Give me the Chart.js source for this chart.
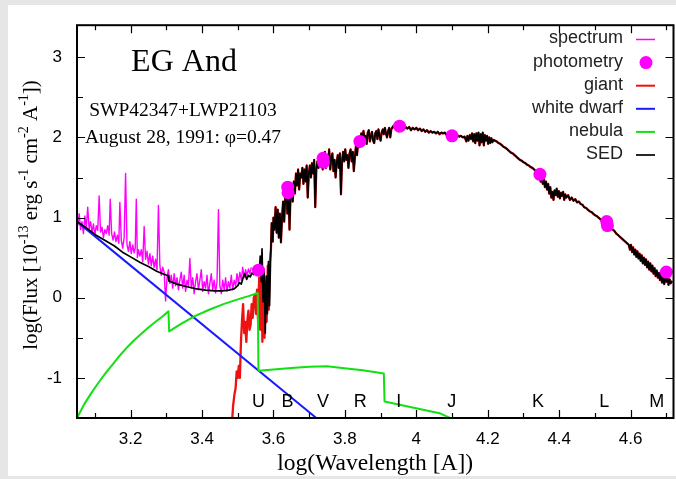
<!DOCTYPE html>
<html>
<head>
<meta charset="utf-8">
<script src="https://cdn.jsdelivr.net/npm/chart.js@4.4.0/dist/chart.umd.min.js"></script>
<style>
  html, body { margin: 0; padding: 0; width: 676px; height: 479px; overflow: hidden; background: #e6e6e6; }
  #panel { position: absolute; left: 8px; top: 5px; width: 672px; height: 471px; background: #fff; }
  #sed { position: absolute; left: 0; top: 0; }
</style>
</head>
<body>
<div id="panel"></div>
<canvas id="sed" width="680" height="479"></canvas>
<script>
// axis ticks (log wavelength / log flux)
const xTicks = [3.2, 3.4, 3.6, 3.8, 4, 4.2, 4.4, 4.6];
const xMinor = [3.1, 3.3, 3.5, 3.7, 3.9, 4.1, 4.3, 4.5, 4.7];
const yTicks = [-1, 0, 1, 2, 3];
const yMinor = [-0.5, 0.5, 1.5, 2.5];

// photometric bands
const bandNames = ['U', 'B', 'V', 'R', 'I', 'J', 'K', 'L', 'M'];
const bandLw = [3.558, 3.639, 3.739, 3.843, 3.951, 4.099, 4.341, 4.526, 4.673];

// photometry points
const photLw = [3.558, 3.640, 3.641, 3.739, 3.740, 3.842, 3.953, 4.100, 4.346, 4.533, 4.535, 4.700];
const photFlux = [0.344, 1.38, 1.31, 1.74, 1.69, 1.95, 2.14, 2.02, 1.54, 0.95, 0.90, 0.32];

// IUE spectrum [log lambda, log flux]
const spectrumPts = [
  [3.048,0.98],[3.052,0.90],[3.056,1.05],[3.060,0.85],[3.064,0.95],[3.068,0.80],[3.072,1.02],[3.076,0.88],
  [3.080,1.13],[3.084,0.86],[3.088,0.95],[3.092,0.82],[3.096,0.92],[3.100,0.78],[3.104,0.90],[3.108,0.84],
  [3.112,1.27],[3.116,0.82],[3.120,0.88],[3.124,0.75],[3.128,0.85],[3.132,0.80],[3.136,0.90],[3.140,0.78],
  [3.143,1.23],[3.147,0.80],[3.151,0.72],[3.155,0.82],[3.159,0.70],[3.163,0.78],[3.167,0.68],[3.170,1.19],
  [3.174,0.72],[3.178,0.62],[3.182,0.75],[3.186,1.55],[3.190,0.66],[3.194,0.58],[3.198,0.70],[3.202,0.55],
  [3.206,0.66],[3.210,0.56],[3.213,0.62],[3.216,1.23],[3.219,0.50],[3.222,0.60],[3.226,0.52],[3.230,0.60],
  [3.234,0.45],[3.238,0.89],[3.242,0.48],[3.246,0.58],[3.250,0.42],[3.254,0.55],[3.258,0.40],[3.262,0.52],
  [3.266,0.38],[3.270,0.48],[3.274,0.35],[3.278,1.15],[3.282,0.40],[3.286,0.28],[3.290,0.38],[3.294,0.32],
  [3.298,-0.04],[3.302,0.25],[3.306,0.35],[3.310,0.18],[3.314,0.28],[3.318,0.12],[3.322,0.30],[3.326,0.15],
  [3.330,0.25],[3.334,0.10],[3.338,0.22],[3.342,0.32],[3.346,0.12],[3.350,0.28],[3.354,0.08],[3.358,0.22],
  [3.362,0.15],[3.366,0.49],[3.370,0.12],[3.374,0.25],[3.378,0.05],[3.382,0.20],[3.386,0.30],[3.390,0.10],
  [3.394,0.22],[3.398,0.35],[3.402,0.08],[3.406,0.20],[3.410,0.12],[3.414,0.28],[3.418,0.05],[3.422,0.18],
  [3.426,0.30],[3.430,0.10],[3.434,0.22],[3.438,0.06],[3.442,0.20],[3.446,1.10],[3.450,0.15],[3.454,0.05],
  [3.458,0.22],[3.462,0.10],[3.466,0.25],[3.470,0.08],[3.474,0.20],[3.478,0.12],[3.482,0.28],[3.486,0.10],
  [3.490,0.22],[3.494,0.15],[3.498,0.30],[3.502,0.18],[3.506,0.32],[3.510,0.22],[3.514,0.38],[3.518,0.25],
  [3.522,0.35],[3.526,0.28],[3.530,0.36],[3.534,0.30],[3.538,0.38]
];

// giant below the Balmer region (above it the giant follows the SED)
const giantPts = [
  [3.484,-1.55],[3.487,-1.35],[3.491,-1.20],[3.494,-1.13],[3.497,-0.92],[3.500,-1.00],[3.503,-0.85],[3.506,-1.00],
  [3.509,-0.55],[3.512,-0.28],[3.515,-0.08],[3.518,-0.44],[3.521,-0.30],[3.524,-0.55],[3.527,-0.28],[3.530,-0.16],
  [3.533,-0.40],[3.536,-0.34],[3.539,-0.08],[3.542,-0.25],[3.545,0.00],[3.548,0.04],[3.551,-0.20],[3.554,0.10],
  [3.557,-0.30],[3.560,0.25],[3.563,-0.40],[3.566,0.50],[3.569,-0.55],[3.572,0.30],[3.575,-0.50],[3.578,0.20],
  [3.581,-0.30],[3.584,0.40],[3.587,-0.15],[3.590,0.45],[3.593,0.60]
];

const dwarfPts = [[3.05,0.95],[3.72,-1.5]];

const nebulaPts = [
  [3.05,-1.5],[3.07,-1.33],[3.09,-1.19],[3.11,-1.06],[3.13,-0.94],[3.15,-0.83],[3.17,-0.72],[3.19,-0.62],
  [3.21,-0.53],[3.23,-0.45],[3.25,-0.37],[3.27,-0.30],[3.29,-0.23],[3.306,-0.17],[3.308,-0.42],[3.34,-0.33],
  [3.38,-0.23],[3.42,-0.15],[3.46,-0.08],[3.50,-0.02],[3.53,0.02],[3.556,0.06],[3.558,-0.91],[3.60,-0.895],
  [3.65,-0.875],[3.70,-0.86],[3.75,-0.855],[3.78,-0.87],[3.85,-0.905],[3.909,-0.944],[3.911,-1.295],
  [4.065,-1.44],[4.10,-1.51]
];

// total model SED
const sedPts = [
  [3.05,0.95],[3.08,0.86],[3.10,0.79],[3.13,0.71],[3.155,0.645],[3.18,0.56],[3.20,0.51],[3.227,0.44],
  [3.25,0.39],[3.273,0.33],[3.29,0.30],[3.305,0.275],[3.307,0.21],[3.33,0.17],[3.355,0.14],[3.38,0.115],
  [3.41,0.095],[3.435,0.085],[3.457,0.085],[3.475,0.095],[3.49,0.11],[3.50,0.15],[3.505,0.19],[3.51,0.17],
  [3.515,0.25],[3.52,0.30],[3.525,0.23],[3.53,0.28],[3.535,0.26],[3.54,0.31],[3.545,0.29],[3.55,0.33],
  [3.555,0.36],[3.56,0.30],[3.563,0.52],[3.566,0.20],[3.568,0.61],[3.571,-0.05],[3.574,0.35],[3.577,-0.44],
  [3.58,0.27],[3.583,-0.20],[3.586,0.45],[3.589,-0.10],[3.592,0.50],[3.595,0.93],[3.598,0.70],[3.600,1.00],
  [3.603,0.85],[3.606,1.13],[3.609,0.81],[3.612,1.10],[3.615,0.75],[3.618,1.05],[3.621,0.69],[3.624,1.00],
  [3.627,1.20],[3.630,0.95],[3.633,1.25],[3.636,1.35],[3.639,1.05],[3.642,1.38],[3.645,0.85],[3.648,1.30],
  [3.651,1.40],[3.654,1.20],[3.657,1.45],[3.660,1.30],[3.663,1.55],[3.666,1.40],[3.669,1.60],[3.672,1.35],
  [3.675,1.55],[3.678,1.50],[3.681,1.62],[3.684,1.42],[3.687,1.60],[3.690,1.45],[3.693,1.65],[3.696,1.25],
  [3.699,1.55],[3.702,1.65],[3.705,1.50],[3.708,1.68],[3.711,1.55],[3.714,1.72],[3.717,1.13],[3.720,1.60],
  [3.723,1.70],[3.726,1.62],[3.729,1.76],[3.732,1.68],[3.735,1.75],[3.738,1.60],[3.741,1.72],[3.744,1.82],
  [3.747,1.62],[3.750,1.78],[3.753,1.70],[3.756,1.85],[3.759,1.60],[3.762,1.75],[3.765,1.80],[3.768,1.58],
  [3.771,1.72],[3.774,1.50],[3.777,1.68],[3.780,1.78],[3.783,1.62],[3.786,1.80],[3.789,1.29],[3.792,1.70],
  [3.795,1.82],[3.798,1.70],[3.801,1.85],[3.804,1.72],[3.807,1.78],[3.810,1.62],[3.813,1.80],[3.816,1.85],
  [3.819,1.70],[3.822,1.82],[3.825,1.58],[3.828,1.75],[3.831,1.90],[3.834,1.78],[3.837,1.95],[3.840,1.88],
  [3.843,1.98],[3.846,2.05],[3.849,1.95],[3.852,2.08],[3.855,1.98],[3.858,2.02],[3.861,1.92],[3.864,2.06],
  [3.867,2.09],[3.870,1.95],[3.873,2.02],[3.876,2.07],[3.879,1.96],[3.882,1.93],[3.885,2.05],[3.888,2.08],
  [3.891,1.98],[3.894,2.10],[3.897,2.02],[3.900,1.96],[3.903,2.06],[3.906,2.10],[3.909,2.04],[3.912,2.12],
  [3.915,2.05],[3.918,2.00],[3.921,2.08],[3.924,2.12],[3.927,2.00],[3.930,2.10],[3.935,2.14],[3.940,2.12],
  [3.945,2.15],[3.950,2.13],[3.955,2.14],[3.960,2.12],[3.965,2.10],[3.970,2.13],[3.975,2.11],[3.980,2.13],
  [3.985,2.09],[3.990,2.12],[3.995,2.10],[4.000,2.12],[4.005,2.09],[4.010,2.11],[4.015,2.08],[4.020,2.10],
  [4.025,2.07],[4.030,2.09],[4.035,2.06],[4.040,2.08],[4.045,2.06],[4.050,2.07],[4.055,2.05],[4.060,2.07],
  [4.065,2.04],[4.070,2.06],[4.075,2.05],[4.080,2.06],[4.085,2.03],[4.090,2.05],[4.095,2.04],[4.100,2.03],
  [4.105,2.04],[4.110,2.02],[4.115,2.03],[4.120,2.01],[4.125,2.02],[4.130,2.00],[4.135,2.01],[4.140,1.95],
  [4.143,2.02],[4.146,1.96],[4.150,2.03],[4.153,1.98],[4.156,2.05],[4.159,1.95],[4.162,2.04],[4.165,1.93],
  [4.168,2.05],[4.171,1.96],[4.174,2.06],[4.177,1.90],[4.180,2.04],[4.183,1.94],[4.186,2.06],[4.189,1.90],
  [4.192,2.03],[4.195,1.96],[4.198,2.02],[4.201,1.92],[4.204,2.00],[4.207,1.93],[4.210,1.99],[4.213,1.94],
  [4.216,1.97],[4.220,1.96],[4.225,1.95],[4.230,1.93],[4.235,1.92],[4.240,1.90],[4.245,1.88],[4.250,1.87],
  [4.255,1.85],[4.260,1.83],[4.265,1.81],[4.270,1.80],[4.275,1.78],[4.280,1.76],[4.285,1.74],[4.290,1.72],
  [4.295,1.71],[4.300,1.69],[4.305,1.68],[4.310,1.66],[4.315,1.65],[4.320,1.63],[4.325,1.62],[4.330,1.60],
  [4.335,1.58],[4.340,1.57],[4.345,1.54],[4.348,1.45],[4.351,1.52],[4.354,1.42],[4.357,1.48],[4.360,1.38],
  [4.363,1.45],[4.366,1.35],[4.369,1.42],[4.372,1.30],[4.375,1.38],[4.378,1.25],[4.381,1.32],[4.384,1.22],
  [4.387,1.34],[4.390,1.28],[4.393,1.36],[4.396,1.26],[4.399,1.33],[4.402,1.24],[4.405,1.31],[4.408,1.27],
  [4.411,1.32],[4.414,1.22],[4.417,1.29],[4.420,1.25],[4.425,1.28],[4.430,1.22],[4.435,1.25],[4.440,1.21],
  [4.445,1.23],[4.450,1.19],[4.455,1.20],[4.460,1.17],[4.465,1.16],[4.470,1.13],[4.475,1.12],[4.480,1.10],
  [4.485,1.08],[4.490,1.07],[4.495,1.05],[4.500,1.03],[4.505,1.02],[4.510,1.00],[4.515,0.98],[4.520,0.96],
  [4.525,0.95],[4.530,0.93],[4.535,0.91],[4.540,0.89],[4.545,0.87],[4.550,0.85],[4.555,0.83],[4.560,0.80],
  [4.565,0.78],[4.570,0.76],[4.575,0.74],[4.580,0.72],[4.585,0.70],[4.590,0.68],[4.595,0.66],[4.598,0.60],
  [4.601,0.66],[4.604,0.57],[4.607,0.63],[4.610,0.54],[4.613,0.60],[4.616,0.51],[4.619,0.58],[4.622,0.49],
  [4.625,0.55],[4.628,0.46],[4.631,0.53],[4.634,0.43],[4.637,0.50],[4.640,0.41],[4.643,0.48],[4.646,0.38],
  [4.649,0.45],[4.652,0.35],[4.655,0.43],[4.658,0.33],[4.661,0.40],[4.664,0.30],[4.667,0.37],[4.670,0.27],
  [4.673,0.34],[4.676,0.25],[4.679,0.31],[4.682,0.22],[4.685,0.30],[4.688,0.19],[4.691,0.28],[4.694,0.17],
  [4.697,0.27],[4.700,0.20],[4.703,0.25],[4.706,0.16],[4.709,0.23],[4.712,0.18],[4.716,0.21]
];

const toXY = pts => pts.map(p => ({ x: p[0], y: p[1] }));
const giantData = toXY(giantPts.concat(sedPts.filter(p => p[0] >= 3.595)));

const serif = '"Liberation Serif", "Times New Roman", serif';
const sans = '"Liberation Sans", Arial, sans-serif';

// frame, inward ticks, legend and all the text
const decor = {
  id: 'decor',
  afterDatasetsDraw(chart) {
    const { ctx, chartArea: a, scales: { x, y } } = chart;
    ctx.save();
    ctx.strokeStyle = '#000';
    ctx.lineWidth = 1.2;
    ctx.beginPath();
    const tickX = (v, len) => {
      const px = Math.round(x.getPixelForValue(v)) + 0.5;
      ctx.moveTo(px, a.bottom); ctx.lineTo(px, a.bottom - len);
      ctx.moveTo(px, a.top); ctx.lineTo(px, a.top + len);
    };
    const tickY = (v, len) => {
      const py = Math.round(y.getPixelForValue(v)) + 0.5;
      ctx.moveTo(a.left, py); ctx.lineTo(a.left + len, py);
      ctx.moveTo(a.right, py); ctx.lineTo(a.right - len, py);
    };
    xTicks.forEach(v => tickX(v, 8));
    xMinor.forEach(v => tickX(v, 5));
    yTicks.forEach(v => tickY(v, 8));
    yMinor.forEach(v => tickY(v, 6));
    ctx.stroke();
    ctx.lineWidth = 2;
    ctx.strokeRect(a.left, a.top, a.right - a.left, a.bottom - a.top);

    // band letters
    ctx.fillStyle = '#000';
    ctx.font = '18px ' + sans;
    ctx.textAlign = 'center';
    ctx.textBaseline = 'alphabetic';
    bandNames.forEach((b, i) => ctx.fillText(b, x.getPixelForValue(bandLw[i]), 407));

    // legend
    ctx.font = '18px ' + sans;
    ctx.textAlign = 'right';
    ctx.textBaseline = 'middle';
    chart.data.datasets.forEach((ds, i) => {
      const ly = 38.5 + i * 23.1;
      ctx.fillStyle = '#222';
      ctx.fillText(ds.label, 623, ly);
      if (ds.showLine === false) {
        ctx.fillStyle = ds.backgroundColor;
        ctx.beginPath();
        ctx.arc(646, ly + 1, 6.5, 0, Math.PI * 2);
        ctx.fill();
      } else {
        ctx.strokeStyle = ds.borderColor;
        ctx.lineWidth = ds.legendWidth;
        ctx.beginPath();
        ctx.moveTo(636, ly + 1);
        ctx.lineTo(655, ly + 1);
        ctx.stroke();
      }
    });

    // object name and observation
    ctx.fillStyle = '#000';
    ctx.textAlign = 'center';
    ctx.textBaseline = 'alphabetic';
    ctx.font = '32px ' + serif;
    ctx.fillText('EG And', 184, 71);
    ctx.font = '19.5px ' + serif;
    ctx.fillText('SWP42347+LWP21103', 183, 116);
    ctx.fillText('August 28, 1991: \u03c6=0.47', 183, 143);

    // axis titles
    ctx.font = '23.5px ' + serif;
    ctx.fillText('log(Wavelength [A])', (a.left + a.right) / 2, 470);

    const parts = [['log(Flux [10', 0], ['-13', 1], [' erg s', 0], ['-1', 1], [' cm', 0], ['-2', 1], [' A', 0], ['-1', 1], ['])', 0]];
    const fontFor = sup => (sup ? '14px ' : '21px ') + serif;
    let total = 0;
    parts.forEach(([t, sup]) => { ctx.font = fontFor(sup); total += ctx.measureText(t).width; });
    ctx.translate(37, 215);
    ctx.rotate(-Math.PI / 2);
    ctx.textAlign = 'left';
    let cx = -total / 2;
    parts.forEach(([t, sup]) => {
      ctx.font = fontFor(sup);
      ctx.fillText(t, cx, sup ? -9 : 0);
      cx += ctx.measureText(t).width;
    });
    ctx.restore();
  }
};

const lineSet = (label, data, color, width, order) => ({
  label, data, order,
  showLine: true,
  borderColor: color,
  backgroundColor: color,
  borderWidth: width,
  borderJoinStyle: 'round',
  legendWidth: Math.min(Math.max(width, 1.5), 2),
  pointRadius: 0,
  tension: 0
});

new Chart(document.getElementById('sed'), {
  type: 'scatter',
  data: {
    datasets: [
      lineSet('spectrum', toXY(spectrumPts), '#ff00ff', 1.4, 5),
      {
        label: 'photometry',
        data: photLw.map((v, i) => ({ x: v, y: photFlux[i] })),
        showLine: false,
        order: 0,
        pointRadius: 6.5,
        pointBorderWidth: 0,
        backgroundColor: '#ff00ff',
        borderColor: '#ff00ff'
      },
      lineSet('giant', giantData, '#ee1111', 2.3, 4),
      lineSet('white dwarf', toXY(dwarfPts), '#1a1aff', 2, 3),
      lineSet('nebula', toXY(nebulaPts), '#11e011', 2, 2),
      lineSet('SED', toXY(sedPts), '#000000', 1.7, 1)
    ]
  },
  options: {
    responsive: false,
    animation: false,
    devicePixelRatio: 1,
    layout: { padding: { top: 12, right: 2, left: 0, bottom: 0 } },
    plugins: { legend: { display: false }, tooltip: { enabled: false } },
    scales: {
      x: {
        type: 'linear', min: 3.05, max: 4.72,
        grid: { display: false, drawTicks: false },
        border: { display: false },
        ticks: { color: '#000', font: { family: sans, size: 17 }, padding: 11, maxRotation: 0, callback: v => String(v) },
        afterBuildTicks: s => { s.ticks = xTicks.map(v => ({ value: v })); },
        afterFit: s => { s.height = 61; }
      },
      y: {
        type: 'linear', min: -1.5, max: 3.4,
        grid: { display: false, drawTicks: false },
        border: { display: false },
        ticks: { color: '#000', font: { family: sans, size: 17 }, padding: 15, callback: v => String(v) },
        afterBuildTicks: s => { s.ticks = yTicks.map(v => ({ value: v })); },
        afterFit: s => { s.width = 77; }
      }
    }
  },
  plugins: [decor]
});
</script>
</body>
</html>
